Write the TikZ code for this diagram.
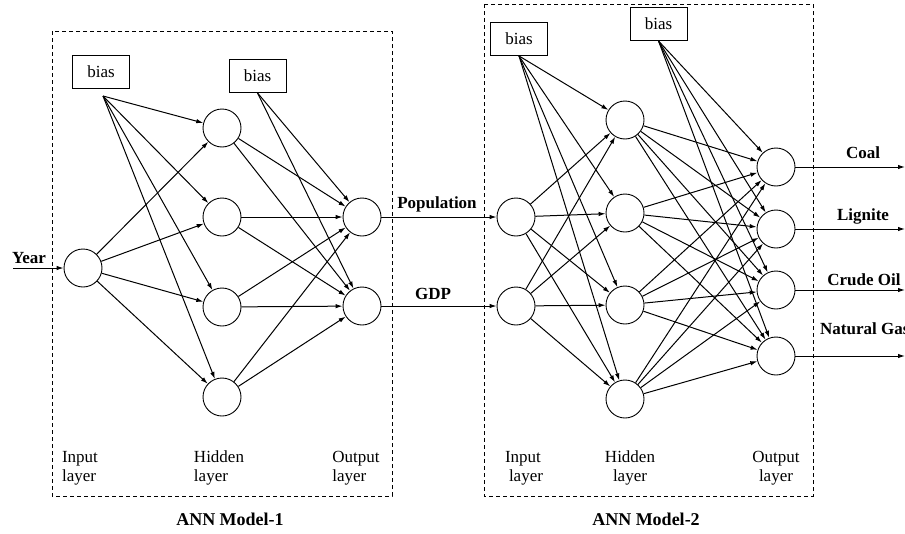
\documentclass[tikz,border=0pt]{standalone}
\usepackage{fontspec}
\setmainfont{Liberation Serif}
\usetikzlibrary{arrows.meta}

\begin{document}
\begin{tikzpicture}[x=1pt,y=-1pt,
    neuron/.style={draw,circle,minimum size=38pt,inner sep=0pt,line width=0.9pt},
    biasbox/.style={draw,minimum width=57pt,minimum height=33pt,line width=0.9pt,font=\fontsize{17}{19}\selectfont},
    wire/.style={line width=1pt,-{Latex[length=7pt,width=4.5pt]}},
    modelbox/.style={draw,dash pattern=on 4pt off 3pt,line width=0.9pt},
    lbl/.style={font=\fontsize{17}{19}\selectfont,inner sep=0pt},
    var/.style={font=\fontsize{17}{19}\selectfont\bfseries,inner sep=0pt}]
    \useasboundingbox (0,0) rectangle (905,533);
    \draw[modelbox] (52,31) rectangle (392,496);
    \draw[modelbox] (484,4) rectangle (813,496);

    % ANN Model-1
    \node[neuron] (i1) at (83,268) {};
    \foreach \n/\y in {1/128,2/217,3/307,4/397}
        \node[neuron] (h\n) at (222,\y) {};
    \node[neuron] (o1) at (362,217) {};
    \node[neuron] (o2) at (362,306) {};
    \node[biasbox] (b1) at (101,71.5) {bias};
    \node[biasbox] (b2) at (257.5,76) {bias};
    \coordinate (b1s) at (103,96);
    \coordinate (yr) at (13,268);
    \draw[wire] (yr) -- (i1);
    \foreach \n in {1,...,4} {
        \draw[wire] (b1s) -- (h\n);
        \draw[wire] (i1) -- (h\n);
        \foreach \m in {1,2}
            \draw[wire] (h\n) -- (o\m);
    }
    \foreach \m in {1,2}
        \draw[wire] (b2.south) -- (o\m);

    % ANN Model-2
    \node[neuron] (p1) at (516,217) {};
    \node[neuron] (p2) at (516,306) {};
    \foreach \n/\y in {1/120,2/213,3/305,4/399}
        \node[neuron] (q\n) at (625,\y) {};
    \foreach \m/\y in {1/167,2/229,3/290,4/356}
        \node[neuron] (r\m) at (776,\y) {};
    \node[biasbox] (b3) at (519,39) {bias};
    \node[biasbox] (b4) at (658.5,24) {bias};
    \foreach \n in {1,...,4} {
        \draw[wire] (b3.south) -- (q\n);
        \draw[wire] (p1) -- (q\n);
        \draw[wire] (p2) -- (q\n);
        \draw[wire] (b4.south) -- (r\n);
        \foreach \m in {1,...,4}
            \draw[wire] (q\n) -- (r\m);
    }
    \draw[wire] (o1) -- (p1);
    \draw[wire] (o2) -- (p2);
    \foreach \m/\y in {1/167,2/229,3/290,4/356} {
        \coordinate (e\m) at (905,\y);
        \draw[wire] (r\m) -- (e\m);
    }

    % texts
    \node[var] (tyear) at (29,258) {Year};
    \node[var] (tpop) at (437,204) {Population};
    \node[var] (tgdp) at (433,294) {GDP};
    \node[var] (tcoal) at (863,153) {Coal};
    \node[var] (tlig) at (863,216) {Lignite};
    \node[var] (tcrude) at (864,280) {Crude Oil};
    \node[var,anchor=west] (tgas) at (820,329) {Natural Gas};
    \node[lbl,align=left] (tin1) at (80,468) {Input\\layer};
    \node[lbl,align=left] (thid1) at (219,468) {Hidden\\layer};
    \node[lbl,align=left] (tout1) at (356,468) {Output\\layer};
    \node[lbl,align=center] (tin2) at (523,468) {Input\\\hspace{6pt}layer};
    \node[lbl,align=center] (thid2) at (630,468) {Hidden\\layer};
    \node[lbl,align=center] (tout2) at (776,468) {Output\\layer};
    \node[var,font=\fontsize{18}{21}\selectfont\bfseries] (tm1) at (230,519) {ANN Model-1};
    \node[var,font=\fontsize{18}{21}\selectfont\bfseries] (tm2) at (646,519) {ANN Model-2};
\end{tikzpicture}
\end{document}
